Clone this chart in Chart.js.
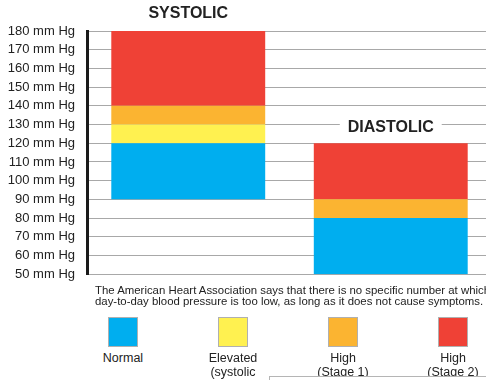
<!DOCTYPE html>
<html>
<head>
<meta charset="utf-8">
<script src="https://cdn.jsdelivr.net/npm/chart.js@4"></script>
<style>
  html, body { margin: 0; padding: 0; background: #fff; overflow: hidden; }
  body { width: 486px; height: 380px; position: relative; font-family: "Liberation Sans", Arial, sans-serif; color: #222; }
  #wrap { position: absolute; left: 0; top: 0; width: 492px; height: 294px; }
  #note { position: absolute; left: 95px; top: 285px; font-size: 11.4px; line-height: 10.5px; white-space: nowrap; color: #222; }
  .key { position: absolute; top: 317px; width: 110px; margin-left: -55px; text-align: center; font-size: 12.5px; line-height: 14px; }
  .key .sw { width: 28px; height: 28px; margin: 0 auto 4px; border: 1px solid #b0b0b0; }
  #cover { position: absolute; left: 269px; top: 376px; width: 240px; height: 30px; background: #fff; border: 1px solid #b5b5b5; }
</style>
</head>
<body>
<div id="wrap"><canvas id="chart" width="492" height="294"></canvas></div>
<div id="note">The American Heart Association says that there is no specific number at which<br>day-to-day blood pressure is too low, as long as it does not cause symptoms.</div>
<div id="legend"></div>
<div id="cover"></div>
<script>
document.addEventListener("DOMContentLoaded", init);

// data
const categories = ["SYSTOLIC", "DIASTOLIC"];
const normal     = [[90, 120], [50, 80]];
const elevated   = [[120, 130], null];
const stage1     = [[130, 140], [80, 90]];
const stage2     = [[140, 180], [90, 120]];
const yTicks     = [50, 60, 70, 80, 90, 100, 110, 120, 130, 140, 150, 160, 170, 180];
const keyLabels  = ["Normal", "Elevated<br>(systolic", "High<br>(Stage 1)", "High<br>(Stage 2)"];
const colors     = ["#00aeef", "#fff150", "#fbb431", "#ef4136"];
const keyX       = [123, 233, 343, 453];

function init() {
  const ctx = document.getElementById("chart").getContext("2d");

  // legend boxes under the note
  const legend = document.getElementById("legend");
  keyLabels.forEach((lab, i) => {
    const d = document.createElement("div");
    d.className = "key";
    d.style.left = keyX[i] + "px";
    d.innerHTML = `<div class="sw" style="background:${colors[i]}"></div>${lab}`;
    legend.appendChild(d);
  });

  // bar titles, DIASTOLIC sits on a white patch over the grid
  const titles = {
    id: "titles",
    afterDraw(c) {
      const x = c.scales.x, g = c.ctx;
      g.save();
      g.font = "bold 16px 'Liberation Sans', Arial, sans-serif";
      g.textAlign = "center";
      g.textBaseline = "middle";
      const spots = [[0, 13], [1, 127]];
      spots.forEach(([i, py]) => {
        const px = x.getPixelForValue(i);
        const w = g.measureText(categories[i]).width;
        g.fillStyle = "#fff";
        g.fillRect(px - w / 2 - 8, py - 8, w + 16, 16);
        g.fillStyle = "#222";
        g.fillText(categories[i], px, py + 1);
      });
      g.restore();
    }
  };

  const mk = (data, col) => ({
    data, backgroundColor: col, borderWidth: 0,
    grouped: false, barPercentage: 0.76, categoryPercentage: 1
  });

  new Chart(ctx, {
    type: "bar",
    data: {
      labels: categories,
      datasets: [
        mk(normal, colors[0]),
        mk(elevated, colors[1]),
        mk(stage1, colors[2]),
        mk(stage2, colors[3])
      ]
    },
    options: {
      responsive: false,
      animation: false,
      layout: { padding: { top: 31, bottom: 11, left: 0, right: 0 } },
      plugins: { legend: { display: false }, tooltip: { enabled: false } },
      scales: {
        x: { display: false },
        y: {
          z: 1,
          min: 50, max: 180,
          afterBuildTicks: s => { s.ticks = yTicks.map(v => ({ value: v })); },
          afterFit: s => { s.width = 87; },
          grid: { color: "#a8a8a8", lineWidth: 1, drawTicks: false },
          border: { color: "#1a1a1a", width: 3 },
          ticks: {
            padding: 12,
            color: "#222",
            font: { family: "'Liberation Sans', Arial, sans-serif", size: 13 },
            callback: v => v + " mm Hg"
          }
        }
      }
    },
    plugins: [titles]
  });
}
</script>
</body>
</html>
